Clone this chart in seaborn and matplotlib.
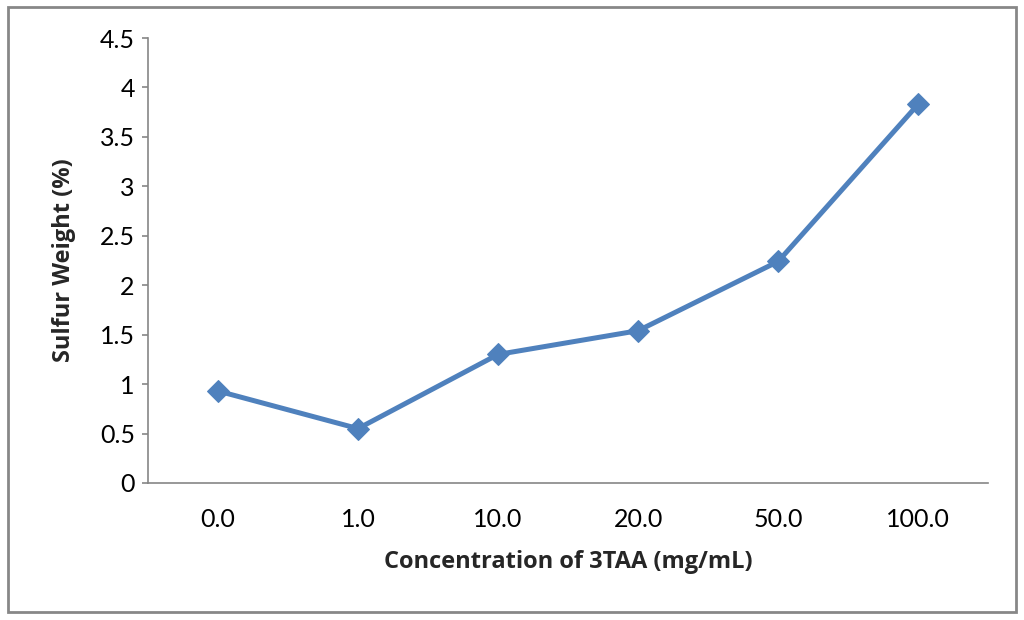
import matplotlib
matplotlib.use("Agg")
import matplotlib.pyplot as plt
import seaborn as sns
import pandas as pd
from matplotlib.patches import Rectangle

categories = ["0.0", "1.0", "10.0", "20.0", "50.0", "100.0"]
sulfur = [0.93, 0.55, 1.30, 1.54, 2.24, 3.83]
y_ticks = [0, 0.5, 1, 1.5, 2, 2.5, 3, 3.5, 4, 4.5]
y_tick_labels = ["0", "0.5", "1", "1.5", "2", "2.5", "3", "3.5", "4", "4.5"]

sns.set_theme(style="white")
plt.rcParams['font.family'] = ['Lato', 'DejaVu Sans']

df = pd.DataFrame({"conc": categories, "sulfur": sulfur})

fig = plt.figure(figsize=(10.24, 6.2), dpi=100)
ax = fig.add_axes([0.1445, 0.221, 0.8205, 0.7177])

sns.lineplot(data=df, x="conc", y="sulfur", ax=ax, sort=False,
             color="#4F81BD", linewidth=3.6, marker="D", markersize=11,
             markeredgecolor="#4F81BD")

ax.set_xlim(-0.5, len(categories) - 0.5)
ax.set_ylim(0, 4.5)
ax.set_yticks(y_ticks)
ax.set_yticklabels(y_tick_labels)

for s in ["top", "right"]:
    ax.spines[s].set_visible(False)
for s in ["left", "bottom"]:
    ax.spines[s].set_color("#868686")
    ax.spines[s].set_linewidth(1.2)

ax.tick_params(axis="y", direction="out", length=4.5, width=1.2, color="#868686",
               labelsize=18, pad=5, left=True, labelcolor="#000000")
ax.tick_params(axis="x", length=0, labelsize=18, pad=18, labelcolor="#000000")

ax.set_xlabel("Concentration of 3TAA (mg/mL)", fontsize=17, fontweight="bold",
              family=["Open Sans", "DejaVu Sans"], labelpad=14)
ax.set_ylabel("Sulfur Weight (%)", fontsize=17, fontweight="bold",
              family=["Open Sans", "DejaVu Sans"], labelpad=17)

fig.patches.append(Rectangle((8/1024, 1-612/620), 1008/1024, 605/620,
                             transform=fig.transFigure, fill=False,
                             edgecolor="#878787", linewidth=2))

fig.savefig("out.png", dpi=100)
